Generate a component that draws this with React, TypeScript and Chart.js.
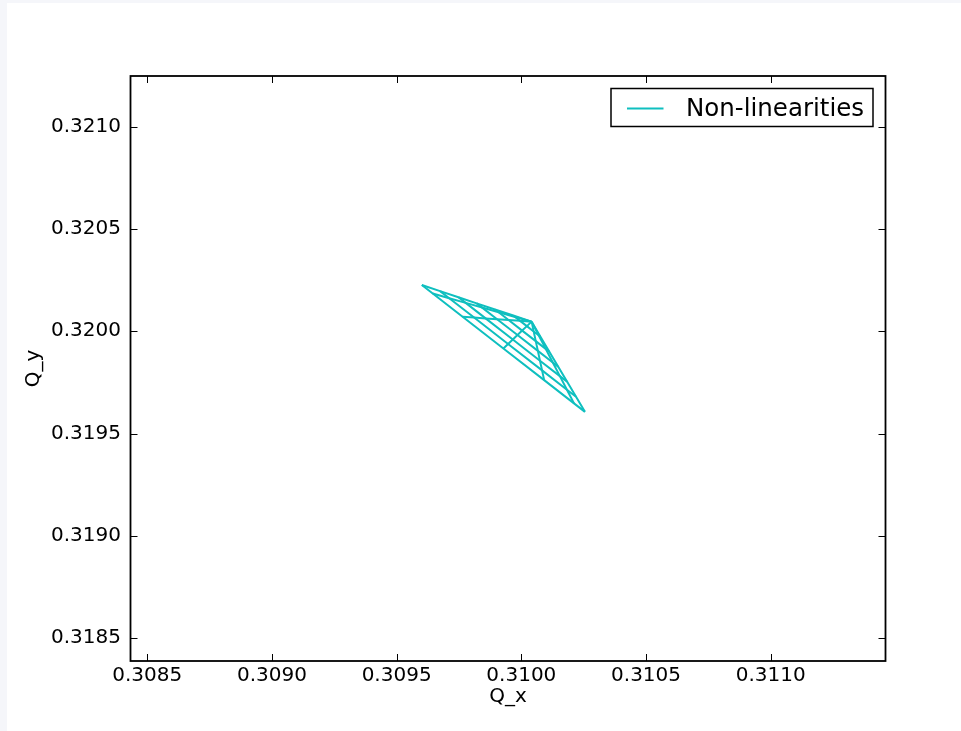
import React, { useEffect, useRef } from 'react';
import { Chart, registerables } from 'chart.js';

Chart.register(...registerables);

// ---------------- data ----------------
const seriesLabel = 'Non-linearities';
const xAxisLabel = 'Q_x';
const yAxisLabel = 'Q_y';

const xMin = 0.308433;
const xMax = 0.31146;
const yMin = 0.318388;
const yMax = 0.321248;
const tickStep = 0.0005;

// tune at zero amplitude (common origin of the footprint)
const q0x = 0.3100413;
const q0y = 0.3200471;

// launch angles of the footprint, each with six amplitude steps
const angleNames = ['0', '15', '30', '45', '60', '75', '90'];

const qxAngle0 = [0.3099677, 0.3098943, 0.309821, 0.3097477, 0.3096743, 0.309601];
const qyAngle0 = [0.3200768, 0.3201067, 0.3201365, 0.3201663, 0.3201962, 0.320226];

const qxAngle15 = [0.309975, 0.3099089, 0.3098429, 0.3097769, 0.3097108, 0.3096448];
const qyAngle15 = [0.3200699, 0.3200928, 0.3201158, 0.3201387, 0.3201616, 0.3201845];

const qxAngle30 = [0.3099949, 0.3099488, 0.3099027, 0.3098567, 0.3098106, 0.3097645];
const qyAngle30 = [0.320051, 0.320055, 0.320059, 0.320063, 0.320067, 0.320071];

const qxAngle45 = [0.3100222, 0.3100033, 0.3099845, 0.3099657, 0.3099468, 0.309928];
const qyAngle45 = [0.3200252, 0.3200033, 0.3199815, 0.3199597, 0.3199378, 0.319916];

const qxAngle60 = [0.3100494, 0.3100578, 0.3100663, 0.3100747, 0.3100831, 0.3100915];
const qyAngle60 = [0.3199993, 0.3199517, 0.319904, 0.3198563, 0.3198087, 0.319761];

const qxAngle75 = [0.3100694, 0.3100977, 0.3101261, 0.3101545, 0.3101828, 0.3102112];
const qyAngle75 = [0.3199804, 0.3199138, 0.3198472, 0.3197807, 0.3197141, 0.3196475];

const qxAngle90 = [0.3100767, 0.3101123, 0.310148, 0.3101837, 0.3102193, 0.310255];
const qyAngle90 = [0.3199735, 0.3199, 0.3198265, 0.319753, 0.3196795, 0.319606];

const qxByAngle = [qxAngle0, qxAngle15, qxAngle30, qxAngle45, qxAngle60, qxAngle75, qxAngle90];
const qyByAngle = [qyAngle0, qyAngle15, qyAngle30, qyAngle45, qyAngle60, qyAngle75, qyAngle90];

// ---------------- styling ----------------
const LINE_COLOR = '#0fbfbf';
const FONT = '"DejaVu Sans", "Liberation Sans", sans-serif';

const mplPlugin = {
  id: 'mplPlugin',
  beforeDraw(chart: any) {
    const { ctx, width, height } = chart;
    ctx.save();
    ctx.fillStyle = '#f5f6fa';
    ctx.fillRect(0, 0, width, height);
    ctx.fillStyle = '#ffffff';
    ctx.fillRect(7, 3, width - 7, height - 3);
    ctx.restore();
  },
  afterDraw(chart: any) {
    const { ctx, chartArea: ca } = chart;
    const xs = chart.scales.x;
    const ys = chart.scales.y;
    ctx.save();
    // ticks pointing inwards on all four sides
    ctx.strokeStyle = '#000';
    ctx.lineWidth = 1;
    const tl = 7;
    xs.ticks.forEach((t: any) => {
      const px = Math.round(xs.getPixelForValue(t.value)) + 0.5;
      ctx.beginPath();
      ctx.moveTo(px, ca.bottom);
      ctx.lineTo(px, ca.bottom - tl);
      ctx.moveTo(px, ca.top);
      ctx.lineTo(px, ca.top + tl);
      ctx.stroke();
    });
    ys.ticks.forEach((t: any) => {
      const py = Math.round(ys.getPixelForValue(t.value)) + 0.5;
      ctx.beginPath();
      ctx.moveTo(ca.left, py);
      ctx.lineTo(ca.left + tl, py);
      ctx.moveTo(ca.right, py);
      ctx.lineTo(ca.right - tl, py);
      ctx.stroke();
    });
    // frame
    ctx.lineWidth = 1.8;
    ctx.strokeRect(ca.left, ca.top, ca.right - ca.left, ca.bottom - ca.top);

    // legend
    const lx = ca.right - 274.5;
    const ly = ca.top + 12.5;
    const lw = 262;
    const lh = 38;
    ctx.fillStyle = '#fff';
    ctx.fillRect(lx, ly, lw, lh);
    ctx.lineWidth = 1.5;
    ctx.strokeStyle = '#000';
    ctx.strokeRect(lx, ly, lw, lh);
    ctx.strokeStyle = LINE_COLOR;
    ctx.lineWidth = 2;
    ctx.beginPath();
    ctx.moveTo(lx + 16, ly + 20);
    ctx.lineTo(lx + 52.5, ly + 20);
    ctx.stroke();
    ctx.fillStyle = '#000';
    ctx.font = '24.5px ' + FONT;
    ctx.textBaseline = 'alphabetic';
    ctx.textAlign = 'left';
    ctx.fillText(seriesLabel, lx + 75, ly + 27.5);
    ctx.restore();
  },
};

export default function App() {
  const canvasRef = useRef<HTMLCanvasElement | null>(null);

  useEffect(() => {
    document.body.style.margin = '0';
    document.body.style.background = '#f5f6fa';
    const canvas = canvasRef.current;
    if (!canvas) return;

    const lineStyle = {
      showLine: true,
      borderColor: LINE_COLOR,
      backgroundColor: LINE_COLOR,
      borderWidth: 2,
      pointRadius: 0,
      pointHoverRadius: 0,
      fill: false,
      tension: 0,
    };

    const datasets: any[] = [];
    // constant-angle lines from the zero-amplitude tune outwards
    angleNames.forEach((name, a) => {
      const pts = [{ x: q0x, y: q0y }].concat(
        qxByAngle[a].map((x, k) => ({ x, y: qyByAngle[a][k] }))
      );
      datasets.push({ label: a === 0 ? seriesLabel : 'angle ' + name, data: pts, ...lineStyle });
    });
    // constant-amplitude lines across the angles
    qxAngle0.forEach((_, k) => {
      const pts = qxByAngle.map((arr, a) => ({ x: arr[k], y: qyByAngle[a][k] }));
      datasets.push({ label: 'amplitude ' + (k + 1), data: pts, ...lineStyle });
    });

    const chart = new Chart(canvas, {
      type: 'scatter',
      data: { datasets },
      options: {
        responsive: false,
        animation: false,
        devicePixelRatio: 1,
        layout: { padding: { left: 0, top: 76, right: 75.5, bottom: 0 } },
        plugins: {
          legend: { display: false },
          tooltip: { enabled: false },
        },
        events: [],
        scales: {
          x: {
            type: 'linear',
            min: xMin,
            max: xMax,
            grid: { display: false },
            border: { display: false },
            ticks: {
              stepSize: tickStep,
              includeBounds: false,
              autoSkip: false,
              maxRotation: 0,
              padding: -5,
              color: '#000',
              font: { family: FONT, size: 20 },
              callback: (v: any) => Number(v).toFixed(4),
            },
            title: {
              display: true,
              text: xAxisLabel,
              color: '#000',
              font: { family: FONT, size: 20 },
              padding: { top: 0, bottom: 22 },
            },
            afterFit: (s: any) => {
              s.height = 70;
            },
          },
          y: {
            type: 'linear',
            min: yMin,
            max: yMax,
            grid: { display: false },
            border: { display: false },
            ticks: {
              stepSize: tickStep,
              includeBounds: false,
              autoSkip: false,
              padding: 1.5,
              color: '#000',
              font: { family: FONT, size: 20 },
              callback: (v: any) => Number(v).toFixed(4),
            },
            title: {
              display: true,
              text: yAxisLabel,
              color: '#000',
              font: { family: FONT, size: 20 },
              padding: { top: 22, bottom: 0 },
            },
            afterFit: (s: any) => {
              s.width = 130.5;
            },
          },
        },
      },
      plugins: [mplPlugin],
    } as any);

    return () => chart.destroy();
  }, []);

  return (
    <div style={{ width: 961, height: 731, position: 'relative' }}>
      <canvas ref={canvasRef} width={961} height={731} style={{ width: 961, height: 731, display: 'block' }} />
    </div>
  );
}
